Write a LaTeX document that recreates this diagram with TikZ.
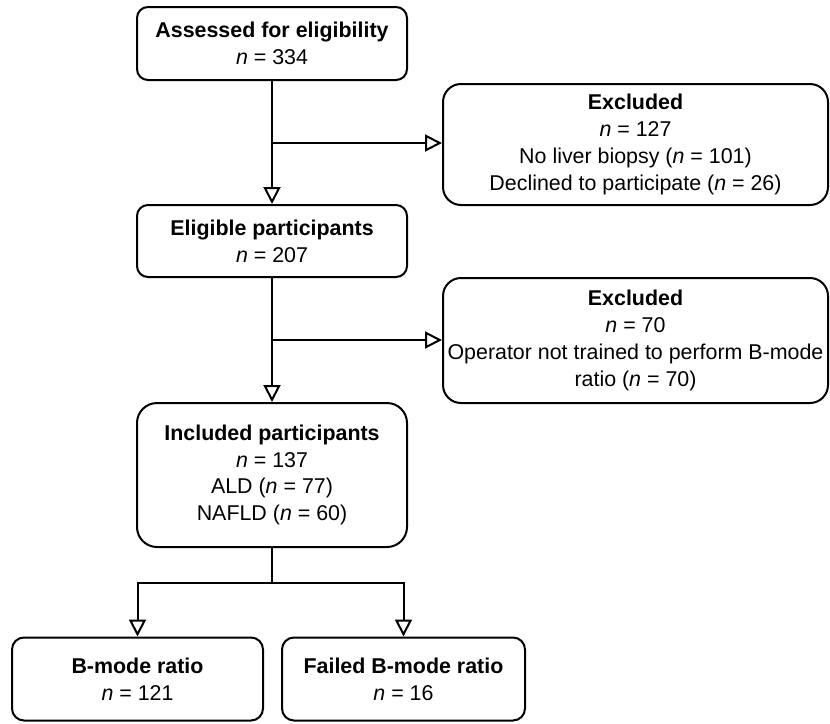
\documentclass[tikz,border=0pt]{standalone}
\usepackage{fontspec}
\setmainfont{Liberation Sans}
\usetikzlibrary{arrows.meta}
\tikzset{
	box/.style={draw, line width=1pt, align=center, inner sep=0pt,
		font=\fontsize{10.7}{13.4}\selectfont},
	link/.style={line width=1pt, -{Triangle[open,length=8.5pt,width=8.5pt,fill=white]}}
}
\begin{document}
\begin{tikzpicture}[x=0.5pt,y=-0.5pt]
	\useasboundingbox (0,0) rectangle (830,723);
	% main column
	\node[box,minimum width=135pt,minimum height=36.5pt,rounded corners=5.5pt] (assess) at (272,43.5)
		{\textbf{Assessed for eligibility}\\\textit{n} = 334};
	\node[box,minimum width=135pt,minimum height=36pt,rounded corners=5.5pt] (elig) at (272,241)
		{\textbf{Eligible participants}\\\textit{n} = 207};
	\node[box,minimum width=135pt,minimum height=72pt,rounded corners=10pt] (incl) at (272,475)
		{\textbf{Included participants}\\\textit{n} = 137\\ALD (\textit{n} = 77)\\NAFLD (\textit{n} = 60)};
	% exclusions
	\node[box,minimum width=192.5pt,minimum height=60.5pt,rounded corners=9pt] (excla) at (635.5,144.5)
		{\textbf{Excluded}\\\textit{n} = 127\\No liver biopsy (\textit{n} = 101)\\Declined to participate (\textit{n} = 26)};
	\node[box,minimum width=192.5pt,minimum height=62.5pt,rounded corners=9pt] (exclb) at (635.5,340.5)
		{\textbf{Excluded}\\\textit{n} = 70\\Operator not trained to perform B-mode\\ratio (\textit{n} = 70)};
	% outcome
	\node[box,minimum width=125.5pt,minimum height=41.5pt,rounded corners=6pt] (bmode) at (137.5,679)
		{\textbf{B-mode ratio}\\\textit{n} = 121};
	\node[box,minimum width=121.5pt,minimum height=41.5pt,rounded corners=6pt] (failed) at (403.5,679)
		{\textbf{Failed B-mode ratio}\\\textit{n} = 16};
	% connectors
	\coordinate (ba) at (272,143);
	\coordinate (bb) at (272,340);
	\coordinate (bc) at (272,583);
	\draw[link] (assess) -- (elig);
	\draw[link] (ba) -- (excla.west |- ba);
	\draw[link] (elig) -- (incl);
	\draw[link] (bb) -- (exclb.west |- bb);
	\draw[line width=1pt] (incl) -- (bc);
	\draw[link] (bc) -| (bmode);
	\draw[link] (bc) -| (failed);
\end{tikzpicture}
\end{document}
